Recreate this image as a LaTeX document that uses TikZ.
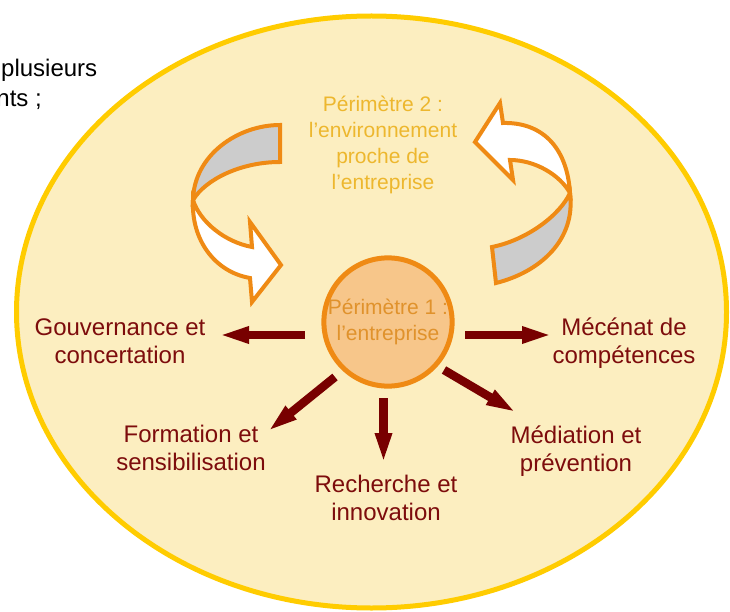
\documentclass[tikz,border=0pt]{standalone}
\usepackage{fontspec}
\setmainfont{Liberation Sans}
\usetikzlibrary{arrows.meta}

\definecolor{ringyellow}{HTML}{FFCC00}
\definecolor{ringfill}{HTML}{FCEEC0}
\definecolor{ribbonorange}{HTML}{EF8A14}
\definecolor{corefill}{HTML}{F7C68A}
\definecolor{ribbongray}{HTML}{CCCCCC}
\definecolor{maroon}{HTML}{780000}
\definecolor{labelred}{HTML}{7D0C0C}
\definecolor{outertext}{HTML}{EDB72E}
\definecolor{innertext}{HTML}{E0922C}

\begin{document}
\begin{tikzpicture}[x=1pt,y=-1pt,
  ring/.style={draw=ringyellow, line width=5pt, fill=ringfill},
  ribbon/.style={draw=ribbonorange, line width=4pt, line join=miter},
  core/.style={circle, draw=ribbonorange, line width=5pt, fill=corefill,
    minimum size=126pt, inner sep=0pt, align=center, text=innertext,
    font=\fontsize{21}{26}\selectfont},
  outerlabel/.style={align=center, text=outertext, inner sep=0pt,
    font=\fontsize{21}{26}\selectfont},
  action/.style={align=center, text=labelred, inner sep=0pt, anchor=base,
    font=\fontsize{24}{28}\selectfont},
  spoke/.style={draw=maroon, line width=8.5pt,
    -{Triangle[length=31pt,width=15pt]}},
  prose/.style={inner sep=0pt, font=\fontsize{24}{29}\selectfont}
]
\useasboundingbox (0,0) rectangle (730,612);

% surrounding text fragments
\node[prose, anchor=base west] (t1) at (1,77) {plusieurs};
\node[prose, anchor=base east] (t2) at (42,107) {nts ;};

% perimeter 2: the large ellipse
\draw[ring] (371.5,312) ellipse [x radius=355pt, y radius=296pt];

% left twisted arrow (top part shows its grey back)
\path[ribbon, fill=ribbongray]
  (280,125) .. controls (238,125) and (194,155) .. (193,200)
            .. controls (205,180) and (240,162) .. (280,162) -- cycle;
\path[ribbon, fill=white]
  (193,200) .. controls (191,240) and (215,272) .. (250,278)
  -- (252,302) -- (281,265) -- (250,222) -- (252,247)
            .. controls (225,242) and (200,222) .. (193,200) -- cycle;

% right twisted arrow (bottom part shows its grey back)
\path[ribbon, fill=ribbongray]
  (570,193) .. controls (560,215) and (527,240) .. (492,247)
  -- (496,283) .. controls (540,272) and (576,240) .. (570,193) -- cycle;
\path[ribbon, fill=white]
  (570,193) .. controls (567,145) and (540,122) .. (503,123)
  -- (500,103) -- (475,142) -- (513,180) -- (510,160)
            .. controls (535,160) and (560,175) .. (570,193) -- cycle;

% perimeter 2 caption (base = baseline of its last line)
\node[outerlabel, anchor=base] (p2) at (383,190)
  {Périmètre 2 :\\l’environnement\\proche de\\l’entreprise};

% perimeter 1: the company
\node[core] (p1) at (388,322) {Périmètre 1 :\\l’entreprise};

% action labels (base = baseline of the second line)
\node[action] (gov) at (120,363) {Gouvernance et\\concertation};
\node[action] (mec) at (624,363) {Mécénat de\\compétences};
\node[action] (form) at (191,470) {Formation et\\sensibilisation};
\node[action] (rech) at (386,520) {Recherche et\\innovation};
\node[action] (med) at (576,471) {Médiation et\\prévention};

% spoke ends
\coordinate (govS) at (305,335);   \coordinate (govE) at (218,335);
\coordinate (mecS) at (465,335);   \coordinate (mecE) at (553,335);
\coordinate (formS) at (335,377);  \coordinate (formE) at (267,432);
\coordinate (rechS) at (383.5,398);\coordinate (rechE) at (383.5,464);
\coordinate (medS) at (444,370);   \coordinate (medE) at (517,413);

\draw[spoke] (govS) -- (govE);
\draw[spoke] (mecS) -- (mecE);
\draw[spoke] (formS) -- (formE);
\draw[spoke] (rechS) -- (rechE);
\draw[spoke] (medS) -- (medE);
\end{tikzpicture}
\end{document}
